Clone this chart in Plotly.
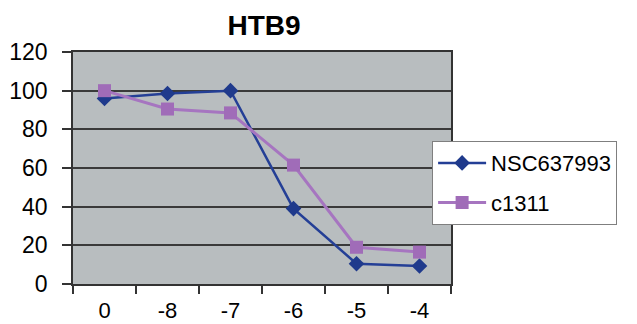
import plotly.graph_objects as go

categories = ["0", "-8", "-7", "-6", "-5", "-4"]
nsc_values = [96, 98.5, 100, 39, 10.5, 9.3]
c1311_values = [100, 90.5, 88.5, 61.5, 19, 16.5]
y_ticks = [0, 20, 40, 60, 80, 100, 120]

fig = go.Figure()
fig.add_trace(go.Scatter(
    x=categories, y=nsc_values, name="NSC637993", mode="lines+markers",
    legendgroup="a",
    line=dict(color="#243F96", width=2.5),
    marker=dict(symbol="diamond", size=12, color="#1F3A8C"),
))
fig.add_trace(go.Scatter(
    x=categories, y=c1311_values, name="c1311", mode="lines+markers",
    legendgroup="b",
    line=dict(color="#A675C0", width=3),
    marker=dict(symbol="square", size=13, color="#A06CB8"),
))

fig.update_layout(
    width=637, height=324,
    margin=dict(l=73, r=186, t=52, b=40),
    paper_bgcolor="white",
    plot_bgcolor="#B8BDBF",
    font=dict(family="Liberation Sans, Arial, sans-serif", size=22, color="black"),
    title=dict(text="<b>HTB9</b>", x=264 / 637, xanchor="center", y=1 - 25 / 324,
               yanchor="middle", font=dict(size=28)),
    showlegend=True,
    legend=dict(
        x=0.95, xanchor="left", y=0.616, yanchor="top",
        bgcolor="white", bordercolor="#7F7F7F", borderwidth=1,
        font=dict(size=22), traceorder="grouped", tracegroupgap=8,
        itemwidth=48,
    ),
    xaxis=dict(
        type="category", tickson="boundaries", ticks="outside", ticklen=8,
        tickcolor="#333", tickwidth=1.5, showgrid=False, automargin=False,
        showline=True, linecolor="#333", linewidth=1.5, mirror=True,
        tickfont=dict(size=22), range=[-0.5, 5.5], ticklabelstandoff=6,
    ),
    yaxis=dict(
        range=[0, 120], tickvals=y_ticks, ticks="outside", ticklen=9,
        tickcolor="#333", tickwidth=1.5, automargin=False,
        showgrid=True, gridcolor="#3A3A3A", gridwidth=2,
        showline=True, linecolor="#333", linewidth=1.5, mirror=True,
        zeroline=False, tickfont=dict(size=23), ticklabelstandoff=10,
    ),
)

fig.write_html("out.html")
